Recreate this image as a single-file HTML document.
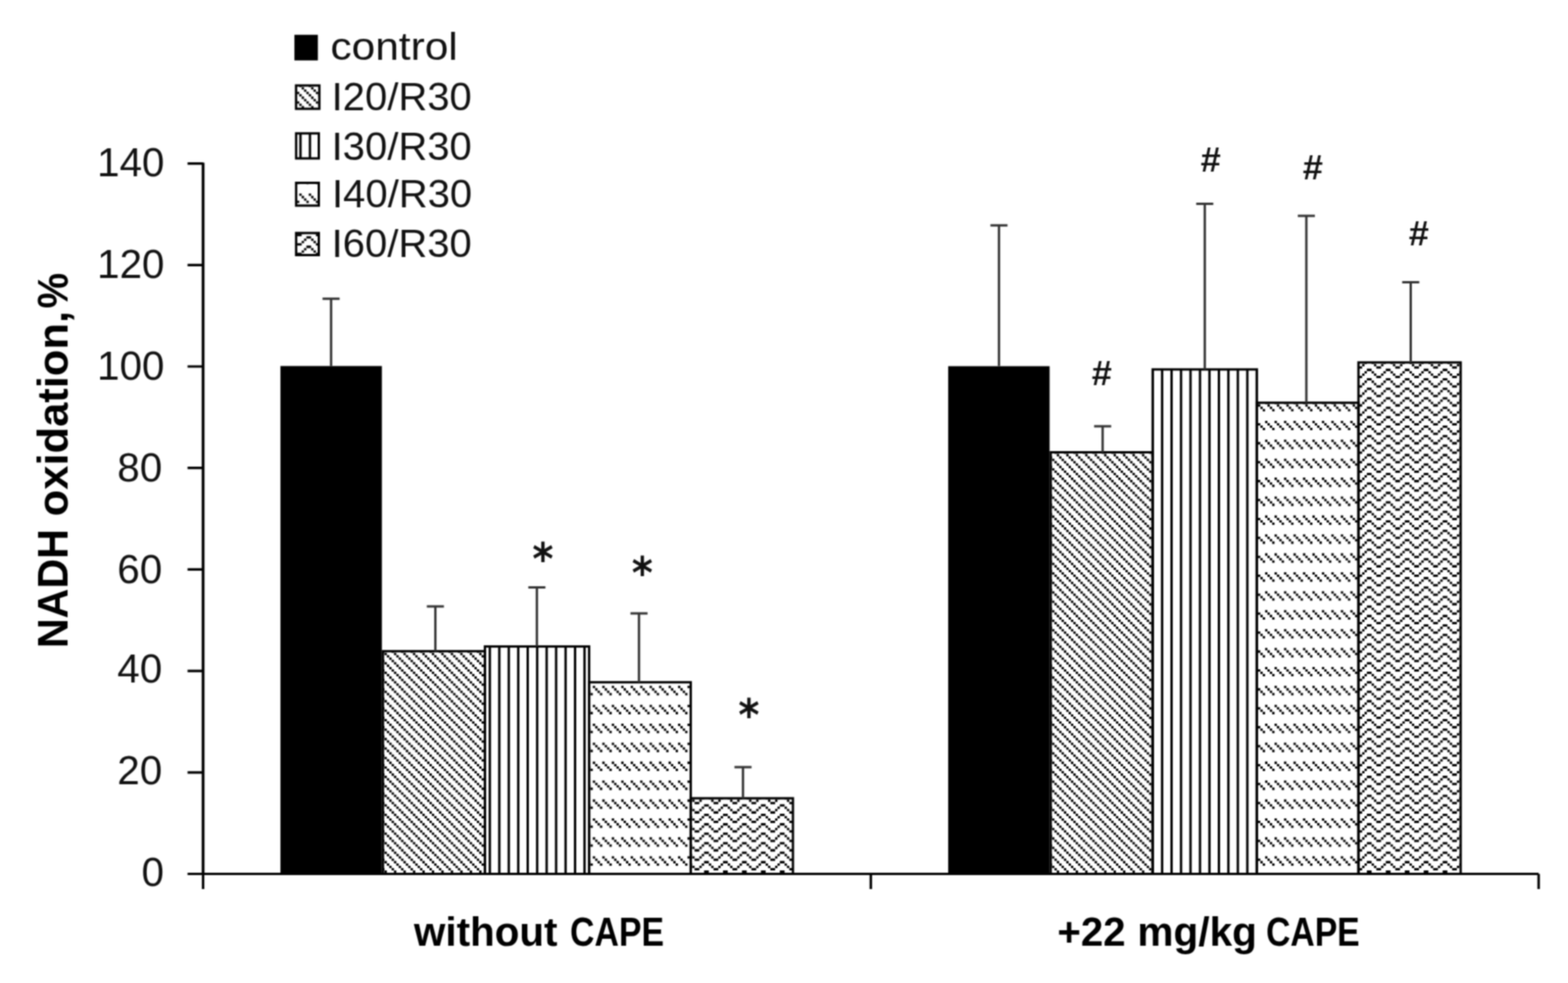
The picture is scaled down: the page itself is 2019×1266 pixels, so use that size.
<!DOCTYPE html>
<html><head><meta charset="utf-8"><title>NADH oxidation chart</title>
<style>html,body{margin:0;padding:0;background:#fff;overflow:hidden}svg{display:block}</style></head>
<body><svg width="2019" height="1266" viewBox="0 0 2019 1266">
<defs><filter id="soft" x="0" y="0" width="2019" height="1266" filterUnits="userSpaceOnUse" color-interpolation-filters="sRGB"><feConvolveMatrix order="5" kernelMatrix="0.00087 0.00695 0.01388 0.00695 0.00087 0.00695 0.05540 0.11068 0.05540 0.00695 0.01388 0.11068 0.22111 0.11068 0.01388 0.00695 0.05540 0.11068 0.05540 0.00695 0.00087 0.00695 0.01388 0.00695 0.00087" edgeMode="none"/></filter>
<clipPath id="c1"><rect x="493.1" y="838.7" width="131.3" height="286.8"/></clipPath>
<clipPath id="c2"><rect x="624.4" y="832.6" width="134.2" height="292.9"/></clipPath>
<clipPath id="c3"><rect x="758.6" y="878.7" width="130.8" height="246.8"/></clipPath>
<clipPath id="c4"><rect x="889.4" y="1028.1" width="131.6" height="97.4"/></clipPath>
<clipPath id="c5"><rect x="1352.9" y="582.5" width="131.3" height="543"/></clipPath>
<clipPath id="c6"><rect x="1484.2" y="475.8" width="134.2" height="649.7"/></clipPath>
<clipPath id="c7"><rect x="1618.4" y="518.7" width="130.8" height="606.8"/></clipPath>
<clipPath id="c8"><rect x="1749.2" y="466.8" width="131.6" height="658.7"/></clipPath>
<clipPath id="c9"><rect x="381.2" y="110.1" width="30" height="30"/></clipPath>
<clipPath id="c10"><rect x="381.3" y="171.8" width="29.2" height="32.2"/></clipPath>
<clipPath id="c11"><rect x="381.3" y="235.5" width="29.2" height="29.3"/></clipPath>
<clipPath id="c12"><rect x="381.3" y="300.1" width="29.2" height="28.4"/></clipPath></defs>
<rect width="2019" height="1266" fill="#fff"/>
<g filter="url(#soft)">
<rect x="361.1" y="471.4" width="130.6" height="654.1" fill="#000"/>
<g clip-path="url(#c1)"><path d="M485.96 836.05H627.45M485.96 848.24H627.45M485.96 860.44H627.45M485.96 872.63H627.45M485.96 884.82H627.45M485.96 897.01H627.45M485.96 909.2H627.45M485.96 921.4H627.45M485.96 933.59H627.45M485.96 945.78H627.45M485.96 957.97H627.45M485.96 970.16H627.45M485.96 982.36H627.45M485.96 994.55H627.45M485.96 1006.74H627.45M485.96 1018.93H627.45M485.96 1031.12H627.45M485.96 1043.32H627.45M485.96 1055.51H627.45M485.96 1067.7H627.45M485.96 1079.89H627.45M485.96 1092.08H627.45M485.96 1104.28H627.45M485.96 1116.47H627.45M485.96 1128.66H627.45" stroke="#000" stroke-width="3.05" stroke-dasharray="3.05 9.14" stroke-dashoffset="-3.05"/><path d="M485.96 839.1H627.45M485.96 851.29H627.45M485.96 863.48H627.45M485.96 875.68H627.45M485.96 887.87H627.45M485.96 900.06H627.45M485.96 912.25H627.45M485.96 924.44H627.45M485.96 936.64H627.45M485.96 948.83H627.45M485.96 961.02H627.45M485.96 973.21H627.45M485.96 985.4H627.45M485.96 997.6H627.45M485.96 1009.79H627.45M485.96 1021.98H627.45M485.96 1034.17H627.45M485.96 1046.36H627.45M485.96 1058.56H627.45M485.96 1070.75H627.45M485.96 1082.94H627.45M485.96 1095.13H627.45M485.96 1107.32H627.45M485.96 1119.52H627.45" stroke="#000" stroke-width="3.05" stroke-dasharray="3.05 9.14" stroke-dashoffset="-6.1"/><path d="M485.96 842.15H627.45M485.96 854.34H627.45M485.96 866.53H627.45M485.96 878.72H627.45M485.96 890.92H627.45M485.96 903.11H627.45M485.96 915.3H627.45M485.96 927.49H627.45M485.96 939.68H627.45M485.96 951.88H627.45M485.96 964.07H627.45M485.96 976.26H627.45M485.96 988.45H627.45M485.96 1000.64H627.45M485.96 1012.84H627.45M485.96 1025.03H627.45M485.96 1037.22H627.45M485.96 1049.41H627.45M485.96 1061.6H627.45M485.96 1073.8H627.45M485.96 1085.99H627.45M485.96 1098.18H627.45M485.96 1110.37H627.45M485.96 1122.56H627.45" stroke="#000" stroke-width="3.05" stroke-dasharray="3.05 9.14" stroke-dashoffset="-9.14"/><path d="M485.96 845.2H627.45M485.96 857.39H627.45M485.96 869.58H627.45M485.96 881.77H627.45M485.96 893.96H627.45M485.96 906.16H627.45M485.96 918.35H627.45M485.96 930.54H627.45M485.96 942.73H627.45M485.96 954.92H627.45M485.96 967.12H627.45M485.96 979.31H627.45M485.96 991.5H627.45M485.96 1003.69H627.45M485.96 1015.88H627.45M485.96 1028.08H627.45M485.96 1040.27H627.45M485.96 1052.46H627.45M485.96 1064.65H627.45M485.96 1076.84H627.45M485.96 1089.04H627.45M485.96 1101.23H627.45M485.96 1113.42H627.45M485.96 1125.61H627.45" stroke="#000" stroke-width="3.05" stroke-dasharray="3.05 9.14" stroke-dashoffset="0"/></g><rect x="493.1" y="838.7" width="131.3" height="286.8" fill="none" stroke="#000" stroke-width="3"/>
<g clip-path="url(#c2)"><path d="M618.54 832.6V1125.5M630.74 832.6V1125.5M642.93 832.6V1125.5M655.12 832.6V1125.5M667.31 832.6V1125.5M679.5 832.6V1125.5M691.7 832.6V1125.5M703.89 832.6V1125.5M716.08 832.6V1125.5M728.27 832.6V1125.5M740.46 832.6V1125.5M752.66 832.6V1125.5" stroke="#000" stroke-width="3.05"/></g><rect x="624.4" y="832.6" width="134.2" height="292.9" fill="none" stroke="#000" stroke-width="3"/>
<g clip-path="url(#c3)"><path d="M754.18 884.82H892.45M754.18 909.2H892.45M754.18 933.59H892.45M754.18 957.97H892.45M754.18 982.36H892.45M754.18 1006.74H892.45M754.18 1031.12H892.45M754.18 1055.51H892.45M754.18 1079.89H892.45M754.18 1104.28H892.45M754.18 1128.66H892.45" stroke="#000" stroke-width="3.05" stroke-dasharray="3.05 9.14" stroke-dashoffset="-9.14"/><path d="M754.18 887.87H892.45M754.18 912.25H892.45M754.18 936.64H892.45M754.18 961.02H892.45M754.18 985.4H892.45M754.18 1009.79H892.45M754.18 1034.17H892.45M754.18 1058.56H892.45M754.18 1082.94H892.45M754.18 1107.32H892.45" stroke="#000" stroke-width="3.05" stroke-dasharray="3.05 9.14" stroke-dashoffset="0"/><path d="M754.18 890.92H892.45M754.18 915.3H892.45M754.18 939.68H892.45M754.18 964.07H892.45M754.18 988.45H892.45M754.18 1012.84H892.45M754.18 1037.22H892.45M754.18 1061.6H892.45M754.18 1085.99H892.45M754.18 1110.37H892.45" stroke="#000" stroke-width="3.05" stroke-dasharray="3.05 9.14" stroke-dashoffset="-3.05"/><path d="M754.18 893.96H892.45M754.18 918.35H892.45M754.18 942.73H892.45M754.18 967.12H892.45M754.18 991.5H892.45M754.18 1015.88H892.45M754.18 1040.27H892.45M754.18 1064.65H892.45M754.18 1089.04H892.45M754.18 1113.42H892.45" stroke="#000" stroke-width="3.05" stroke-dasharray="3.05 9.14" stroke-dashoffset="-6.1"/></g><rect x="758.6" y="878.7" width="130.8" height="246.8" fill="none" stroke="#000" stroke-width="3"/>
<g clip-path="url(#c4)"><path d="M876.1 1025.03H1024.05M876.1 1037.22H1024.05M876.1 1049.41H1024.05M876.1 1061.6H1024.05M876.1 1073.8H1024.05M876.1 1085.99H1024.05M876.1 1098.18H1024.05M876.1 1110.37H1024.05M876.1 1122.56H1024.05" stroke="#000" stroke-width="3.05" stroke-dasharray="6.1 18.29" stroke-dashoffset="-6.1"/><path d="M876.1 1028.08H1024.05M876.1 1040.27H1024.05M876.1 1052.46H1024.05M876.1 1064.65H1024.05M876.1 1076.84H1024.05M876.1 1089.04H1024.05M876.1 1101.23H1024.05M876.1 1113.42H1024.05M876.1 1125.61H1024.05" stroke="#000" stroke-width="3.05" stroke-dasharray="3.05 6.1 3.05 12.19" stroke-dashoffset="-3.05"/><path d="M876.1 1031.12H1024.05M876.1 1043.32H1024.05M876.1 1055.51H1024.05M876.1 1067.7H1024.05M876.1 1079.89H1024.05M876.1 1092.08H1024.05M876.1 1104.28H1024.05M876.1 1116.47H1024.05M876.1 1128.66H1024.05" stroke="#000" stroke-width="3.05" stroke-dasharray="3.05 12.19 3.05 6.1" stroke-dashoffset="0"/><path d="M876.1 1034.17H1024.05M876.1 1046.36H1024.05M876.1 1058.56H1024.05M876.1 1070.75H1024.05M876.1 1082.94H1024.05M876.1 1095.13H1024.05M876.1 1107.32H1024.05M876.1 1119.52H1024.05" stroke="#000" stroke-width="3.05" stroke-dasharray="6.1 18.29" stroke-dashoffset="-18.29"/></g><rect x="889.4" y="1028.1" width="131.6" height="97.4" fill="none" stroke="#000" stroke-width="3"/>
<rect x="1220.9" y="471.6" width="130.6" height="653.9" fill="#000"/>
<g clip-path="url(#c5)"><path d="M1339.4 580.02H1487.25M1339.4 592.21H1487.25M1339.4 604.4H1487.25M1339.4 616.6H1487.25M1339.4 628.79H1487.25M1339.4 640.98H1487.25M1339.4 653.17H1487.25M1339.4 665.36H1487.25M1339.4 677.56H1487.25M1339.4 689.75H1487.25M1339.4 701.94H1487.25M1339.4 714.13H1487.25M1339.4 726.32H1487.25M1339.4 738.52H1487.25M1339.4 750.71H1487.25M1339.4 762.9H1487.25M1339.4 775.09H1487.25M1339.4 787.28H1487.25M1339.4 799.48H1487.25M1339.4 811.67H1487.25M1339.4 823.86H1487.25M1339.4 836.05H1487.25M1339.4 848.24H1487.25M1339.4 860.44H1487.25M1339.4 872.63H1487.25M1339.4 884.82H1487.25M1339.4 897.01H1487.25M1339.4 909.2H1487.25M1339.4 921.4H1487.25M1339.4 933.59H1487.25M1339.4 945.78H1487.25M1339.4 957.97H1487.25M1339.4 970.16H1487.25M1339.4 982.36H1487.25M1339.4 994.55H1487.25M1339.4 1006.74H1487.25M1339.4 1018.93H1487.25M1339.4 1031.12H1487.25M1339.4 1043.32H1487.25M1339.4 1055.51H1487.25M1339.4 1067.7H1487.25M1339.4 1079.89H1487.25M1339.4 1092.08H1487.25M1339.4 1104.28H1487.25M1339.4 1116.47H1487.25M1339.4 1128.66H1487.25" stroke="#000" stroke-width="3.05" stroke-dasharray="3.05 9.14" stroke-dashoffset="-3.05"/><path d="M1339.4 583.07H1487.25M1339.4 595.26H1487.25M1339.4 607.45H1487.25M1339.4 619.64H1487.25M1339.4 631.84H1487.25M1339.4 644.03H1487.25M1339.4 656.22H1487.25M1339.4 668.41H1487.25M1339.4 680.6H1487.25M1339.4 692.8H1487.25M1339.4 704.99H1487.25M1339.4 717.18H1487.25M1339.4 729.37H1487.25M1339.4 741.56H1487.25M1339.4 753.76H1487.25M1339.4 765.95H1487.25M1339.4 778.14H1487.25M1339.4 790.33H1487.25M1339.4 802.52H1487.25M1339.4 814.72H1487.25M1339.4 826.91H1487.25M1339.4 839.1H1487.25M1339.4 851.29H1487.25M1339.4 863.48H1487.25M1339.4 875.68H1487.25M1339.4 887.87H1487.25M1339.4 900.06H1487.25M1339.4 912.25H1487.25M1339.4 924.44H1487.25M1339.4 936.64H1487.25M1339.4 948.83H1487.25M1339.4 961.02H1487.25M1339.4 973.21H1487.25M1339.4 985.4H1487.25M1339.4 997.6H1487.25M1339.4 1009.79H1487.25M1339.4 1021.98H1487.25M1339.4 1034.17H1487.25M1339.4 1046.36H1487.25M1339.4 1058.56H1487.25M1339.4 1070.75H1487.25M1339.4 1082.94H1487.25M1339.4 1095.13H1487.25M1339.4 1107.32H1487.25M1339.4 1119.52H1487.25" stroke="#000" stroke-width="3.05" stroke-dasharray="3.05 9.14" stroke-dashoffset="-6.1"/><path d="M1339.4 586.12H1487.25M1339.4 598.31H1487.25M1339.4 610.5H1487.25M1339.4 622.69H1487.25M1339.4 634.88H1487.25M1339.4 647.08H1487.25M1339.4 659.27H1487.25M1339.4 671.46H1487.25M1339.4 683.65H1487.25M1339.4 695.84H1487.25M1339.4 708.04H1487.25M1339.4 720.23H1487.25M1339.4 732.42H1487.25M1339.4 744.61H1487.25M1339.4 756.8H1487.25M1339.4 769H1487.25M1339.4 781.19H1487.25M1339.4 793.38H1487.25M1339.4 805.57H1487.25M1339.4 817.76H1487.25M1339.4 829.96H1487.25M1339.4 842.15H1487.25M1339.4 854.34H1487.25M1339.4 866.53H1487.25M1339.4 878.72H1487.25M1339.4 890.92H1487.25M1339.4 903.11H1487.25M1339.4 915.3H1487.25M1339.4 927.49H1487.25M1339.4 939.68H1487.25M1339.4 951.88H1487.25M1339.4 964.07H1487.25M1339.4 976.26H1487.25M1339.4 988.45H1487.25M1339.4 1000.64H1487.25M1339.4 1012.84H1487.25M1339.4 1025.03H1487.25M1339.4 1037.22H1487.25M1339.4 1049.41H1487.25M1339.4 1061.6H1487.25M1339.4 1073.8H1487.25M1339.4 1085.99H1487.25M1339.4 1098.18H1487.25M1339.4 1110.37H1487.25M1339.4 1122.56H1487.25" stroke="#000" stroke-width="3.05" stroke-dasharray="3.05 9.14" stroke-dashoffset="-9.14"/><path d="M1339.4 589.16H1487.25M1339.4 601.36H1487.25M1339.4 613.55H1487.25M1339.4 625.74H1487.25M1339.4 637.93H1487.25M1339.4 650.12H1487.25M1339.4 662.32H1487.25M1339.4 674.51H1487.25M1339.4 686.7H1487.25M1339.4 698.89H1487.25M1339.4 711.08H1487.25M1339.4 723.28H1487.25M1339.4 735.47H1487.25M1339.4 747.66H1487.25M1339.4 759.85H1487.25M1339.4 772.04H1487.25M1339.4 784.24H1487.25M1339.4 796.43H1487.25M1339.4 808.62H1487.25M1339.4 820.81H1487.25M1339.4 833H1487.25M1339.4 845.2H1487.25M1339.4 857.39H1487.25M1339.4 869.58H1487.25M1339.4 881.77H1487.25M1339.4 893.96H1487.25M1339.4 906.16H1487.25M1339.4 918.35H1487.25M1339.4 930.54H1487.25M1339.4 942.73H1487.25M1339.4 954.92H1487.25M1339.4 967.12H1487.25M1339.4 979.31H1487.25M1339.4 991.5H1487.25M1339.4 1003.69H1487.25M1339.4 1015.88H1487.25M1339.4 1028.08H1487.25M1339.4 1040.27H1487.25M1339.4 1052.46H1487.25M1339.4 1064.65H1487.25M1339.4 1076.84H1487.25M1339.4 1089.04H1487.25M1339.4 1101.23H1487.25M1339.4 1113.42H1487.25M1339.4 1125.61H1487.25" stroke="#000" stroke-width="3.05" stroke-dasharray="3.05 9.14" stroke-dashoffset="0"/></g><rect x="1352.9" y="582.5" width="131.3" height="543" fill="none" stroke="#000" stroke-width="3"/>
<g clip-path="url(#c6)"><path d="M1484.18 475.8V1125.5M1496.37 475.8V1125.5M1508.56 475.8V1125.5M1520.75 475.8V1125.5M1532.94 475.8V1125.5M1545.14 475.8V1125.5M1557.33 475.8V1125.5M1569.52 475.8V1125.5M1581.71 475.8V1125.5M1593.9 475.8V1125.5M1606.1 475.8V1125.5M1618.29 475.8V1125.5" stroke="#000" stroke-width="3.05"/></g><rect x="1484.2" y="475.8" width="134.2" height="649.7" fill="none" stroke="#000" stroke-width="3"/>
<g clip-path="url(#c7)"><path d="M1607.62 519.06H1752.25M1607.62 543.44H1752.25M1607.62 567.83H1752.25M1607.62 592.21H1752.25M1607.62 616.6H1752.25M1607.62 640.98H1752.25M1607.62 665.36H1752.25M1607.62 689.75H1752.25M1607.62 714.13H1752.25M1607.62 738.52H1752.25M1607.62 762.9H1752.25M1607.62 787.28H1752.25M1607.62 811.67H1752.25M1607.62 836.05H1752.25M1607.62 860.44H1752.25M1607.62 884.82H1752.25M1607.62 909.2H1752.25M1607.62 933.59H1752.25M1607.62 957.97H1752.25M1607.62 982.36H1752.25M1607.62 1006.74H1752.25M1607.62 1031.12H1752.25M1607.62 1055.51H1752.25M1607.62 1079.89H1752.25M1607.62 1104.28H1752.25M1607.62 1128.66H1752.25" stroke="#000" stroke-width="3.05" stroke-dasharray="3.05 9.14" stroke-dashoffset="-9.14"/><path d="M1607.62 522.11H1752.25M1607.62 546.49H1752.25M1607.62 570.88H1752.25M1607.62 595.26H1752.25M1607.62 619.64H1752.25M1607.62 644.03H1752.25M1607.62 668.41H1752.25M1607.62 692.8H1752.25M1607.62 717.18H1752.25M1607.62 741.56H1752.25M1607.62 765.95H1752.25M1607.62 790.33H1752.25M1607.62 814.72H1752.25M1607.62 839.1H1752.25M1607.62 863.48H1752.25M1607.62 887.87H1752.25M1607.62 912.25H1752.25M1607.62 936.64H1752.25M1607.62 961.02H1752.25M1607.62 985.4H1752.25M1607.62 1009.79H1752.25M1607.62 1034.17H1752.25M1607.62 1058.56H1752.25M1607.62 1082.94H1752.25M1607.62 1107.32H1752.25" stroke="#000" stroke-width="3.05" stroke-dasharray="3.05 9.14" stroke-dashoffset="0"/><path d="M1607.62 525.16H1752.25M1607.62 549.54H1752.25M1607.62 573.92H1752.25M1607.62 598.31H1752.25M1607.62 622.69H1752.25M1607.62 647.08H1752.25M1607.62 671.46H1752.25M1607.62 695.84H1752.25M1607.62 720.23H1752.25M1607.62 744.61H1752.25M1607.62 769H1752.25M1607.62 793.38H1752.25M1607.62 817.76H1752.25M1607.62 842.15H1752.25M1607.62 866.53H1752.25M1607.62 890.92H1752.25M1607.62 915.3H1752.25M1607.62 939.68H1752.25M1607.62 964.07H1752.25M1607.62 988.45H1752.25M1607.62 1012.84H1752.25M1607.62 1037.22H1752.25M1607.62 1061.6H1752.25M1607.62 1085.99H1752.25M1607.62 1110.37H1752.25" stroke="#000" stroke-width="3.05" stroke-dasharray="3.05 9.14" stroke-dashoffset="-3.05"/><path d="M1607.62 528.2H1752.25M1607.62 552.59H1752.25M1607.62 576.97H1752.25M1607.62 601.36H1752.25M1607.62 625.74H1752.25M1607.62 650.12H1752.25M1607.62 674.51H1752.25M1607.62 698.89H1752.25M1607.62 723.28H1752.25M1607.62 747.66H1752.25M1607.62 772.04H1752.25M1607.62 796.43H1752.25M1607.62 820.81H1752.25M1607.62 845.2H1752.25M1607.62 869.58H1752.25M1607.62 893.96H1752.25M1607.62 918.35H1752.25M1607.62 942.73H1752.25M1607.62 967.12H1752.25M1607.62 991.5H1752.25M1607.62 1015.88H1752.25M1607.62 1040.27H1752.25M1607.62 1064.65H1752.25M1607.62 1089.04H1752.25M1607.62 1113.42H1752.25" stroke="#000" stroke-width="3.05" stroke-dasharray="3.05 9.14" stroke-dashoffset="-6.1"/></g><rect x="1618.4" y="518.7" width="130.8" height="606.8" fill="none" stroke="#000" stroke-width="3"/>
<g clip-path="url(#c8)"><path d="M1729.54 464.2H1883.85M1729.54 476.39H1883.85M1729.54 488.58H1883.85M1729.54 500.77H1883.85M1729.54 512.96H1883.85M1729.54 525.16H1883.85M1729.54 537.35H1883.85M1729.54 549.54H1883.85M1729.54 561.73H1883.85M1729.54 573.92H1883.85M1729.54 586.12H1883.85M1729.54 598.31H1883.85M1729.54 610.5H1883.85M1729.54 622.69H1883.85M1729.54 634.88H1883.85M1729.54 647.08H1883.85M1729.54 659.27H1883.85M1729.54 671.46H1883.85M1729.54 683.65H1883.85M1729.54 695.84H1883.85M1729.54 708.04H1883.85M1729.54 720.23H1883.85M1729.54 732.42H1883.85M1729.54 744.61H1883.85M1729.54 756.8H1883.85M1729.54 769H1883.85M1729.54 781.19H1883.85M1729.54 793.38H1883.85M1729.54 805.57H1883.85M1729.54 817.76H1883.85M1729.54 829.96H1883.85M1729.54 842.15H1883.85M1729.54 854.34H1883.85M1729.54 866.53H1883.85M1729.54 878.72H1883.85M1729.54 890.92H1883.85M1729.54 903.11H1883.85M1729.54 915.3H1883.85M1729.54 927.49H1883.85M1729.54 939.68H1883.85M1729.54 951.88H1883.85M1729.54 964.07H1883.85M1729.54 976.26H1883.85M1729.54 988.45H1883.85M1729.54 1000.64H1883.85M1729.54 1012.84H1883.85M1729.54 1025.03H1883.85M1729.54 1037.22H1883.85M1729.54 1049.41H1883.85M1729.54 1061.6H1883.85M1729.54 1073.8H1883.85M1729.54 1085.99H1883.85M1729.54 1098.18H1883.85M1729.54 1110.37H1883.85M1729.54 1122.56H1883.85" stroke="#000" stroke-width="3.05" stroke-dasharray="6.1 18.29" stroke-dashoffset="-6.1"/><path d="M1729.54 467.24H1883.85M1729.54 479.44H1883.85M1729.54 491.63H1883.85M1729.54 503.82H1883.85M1729.54 516.01H1883.85M1729.54 528.2H1883.85M1729.54 540.4H1883.85M1729.54 552.59H1883.85M1729.54 564.78H1883.85M1729.54 576.97H1883.85M1729.54 589.16H1883.85M1729.54 601.36H1883.85M1729.54 613.55H1883.85M1729.54 625.74H1883.85M1729.54 637.93H1883.85M1729.54 650.12H1883.85M1729.54 662.32H1883.85M1729.54 674.51H1883.85M1729.54 686.7H1883.85M1729.54 698.89H1883.85M1729.54 711.08H1883.85M1729.54 723.28H1883.85M1729.54 735.47H1883.85M1729.54 747.66H1883.85M1729.54 759.85H1883.85M1729.54 772.04H1883.85M1729.54 784.24H1883.85M1729.54 796.43H1883.85M1729.54 808.62H1883.85M1729.54 820.81H1883.85M1729.54 833H1883.85M1729.54 845.2H1883.85M1729.54 857.39H1883.85M1729.54 869.58H1883.85M1729.54 881.77H1883.85M1729.54 893.96H1883.85M1729.54 906.16H1883.85M1729.54 918.35H1883.85M1729.54 930.54H1883.85M1729.54 942.73H1883.85M1729.54 954.92H1883.85M1729.54 967.12H1883.85M1729.54 979.31H1883.85M1729.54 991.5H1883.85M1729.54 1003.69H1883.85M1729.54 1015.88H1883.85M1729.54 1028.08H1883.85M1729.54 1040.27H1883.85M1729.54 1052.46H1883.85M1729.54 1064.65H1883.85M1729.54 1076.84H1883.85M1729.54 1089.04H1883.85M1729.54 1101.23H1883.85M1729.54 1113.42H1883.85M1729.54 1125.61H1883.85" stroke="#000" stroke-width="3.05" stroke-dasharray="3.05 6.1 3.05 12.19" stroke-dashoffset="-3.05"/><path d="M1729.54 470.29H1883.85M1729.54 482.48H1883.85M1729.54 494.68H1883.85M1729.54 506.87H1883.85M1729.54 519.06H1883.85M1729.54 531.25H1883.85M1729.54 543.44H1883.85M1729.54 555.64H1883.85M1729.54 567.83H1883.85M1729.54 580.02H1883.85M1729.54 592.21H1883.85M1729.54 604.4H1883.85M1729.54 616.6H1883.85M1729.54 628.79H1883.85M1729.54 640.98H1883.85M1729.54 653.17H1883.85M1729.54 665.36H1883.85M1729.54 677.56H1883.85M1729.54 689.75H1883.85M1729.54 701.94H1883.85M1729.54 714.13H1883.85M1729.54 726.32H1883.85M1729.54 738.52H1883.85M1729.54 750.71H1883.85M1729.54 762.9H1883.85M1729.54 775.09H1883.85M1729.54 787.28H1883.85M1729.54 799.48H1883.85M1729.54 811.67H1883.85M1729.54 823.86H1883.85M1729.54 836.05H1883.85M1729.54 848.24H1883.85M1729.54 860.44H1883.85M1729.54 872.63H1883.85M1729.54 884.82H1883.85M1729.54 897.01H1883.85M1729.54 909.2H1883.85M1729.54 921.4H1883.85M1729.54 933.59H1883.85M1729.54 945.78H1883.85M1729.54 957.97H1883.85M1729.54 970.16H1883.85M1729.54 982.36H1883.85M1729.54 994.55H1883.85M1729.54 1006.74H1883.85M1729.54 1018.93H1883.85M1729.54 1031.12H1883.85M1729.54 1043.32H1883.85M1729.54 1055.51H1883.85M1729.54 1067.7H1883.85M1729.54 1079.89H1883.85M1729.54 1092.08H1883.85M1729.54 1104.28H1883.85M1729.54 1116.47H1883.85M1729.54 1128.66H1883.85" stroke="#000" stroke-width="3.05" stroke-dasharray="3.05 12.19 3.05 6.1" stroke-dashoffset="0"/><path d="M1729.54 473.34H1883.85M1729.54 485.53H1883.85M1729.54 497.72H1883.85M1729.54 509.92H1883.85M1729.54 522.11H1883.85M1729.54 534.3H1883.85M1729.54 546.49H1883.85M1729.54 558.68H1883.85M1729.54 570.88H1883.85M1729.54 583.07H1883.85M1729.54 595.26H1883.85M1729.54 607.45H1883.85M1729.54 619.64H1883.85M1729.54 631.84H1883.85M1729.54 644.03H1883.85M1729.54 656.22H1883.85M1729.54 668.41H1883.85M1729.54 680.6H1883.85M1729.54 692.8H1883.85M1729.54 704.99H1883.85M1729.54 717.18H1883.85M1729.54 729.37H1883.85M1729.54 741.56H1883.85M1729.54 753.76H1883.85M1729.54 765.95H1883.85M1729.54 778.14H1883.85M1729.54 790.33H1883.85M1729.54 802.52H1883.85M1729.54 814.72H1883.85M1729.54 826.91H1883.85M1729.54 839.1H1883.85M1729.54 851.29H1883.85M1729.54 863.48H1883.85M1729.54 875.68H1883.85M1729.54 887.87H1883.85M1729.54 900.06H1883.85M1729.54 912.25H1883.85M1729.54 924.44H1883.85M1729.54 936.64H1883.85M1729.54 948.83H1883.85M1729.54 961.02H1883.85M1729.54 973.21H1883.85M1729.54 985.4H1883.85M1729.54 997.6H1883.85M1729.54 1009.79H1883.85M1729.54 1021.98H1883.85M1729.54 1034.17H1883.85M1729.54 1046.36H1883.85M1729.54 1058.56H1883.85M1729.54 1070.75H1883.85M1729.54 1082.94H1883.85M1729.54 1095.13H1883.85M1729.54 1107.32H1883.85M1729.54 1119.52H1883.85" stroke="#000" stroke-width="3.05" stroke-dasharray="6.1 18.29" stroke-dashoffset="-18.29"/></g><rect x="1749.2" y="466.8" width="131.6" height="658.7" fill="none" stroke="#000" stroke-width="3"/>
<path d="M426.3 471.4V384.7M415.3 384.7H437.3M560.6 838.7V781M549.6 781H571.6M691.3 832.6V756.4M680.3 756.4H702.3M822.8 878.7V790M811.8 790H833.8M956.7 1028.1V988.1M945.7 988.1H967.7M1286.3 471.6V290.2M1275.3 290.2H1297.3M1419.8 582.5V548.9M1408.8 548.9H1430.8M1551.3 475.8V262.5M1540.3 262.5H1562.3M1682.1 518.7V278M1671.1 278H1693.1M1816.5 466.8V363.4M1805.5 363.4H1827.5" stroke="#333" stroke-width="3" fill="none"/>
<path d="M261.5 209.5V1127.1" stroke="#000" stroke-width="3.6" fill="none"/>
<path d="M261.5 1125.5H1981.2M241.5 1125.5H261.5M241.5 994.8H261.5M241.5 864.1H261.5M241.5 733.4H261.5M241.5 602.7H261.5M241.5 472H261.5M241.5 341.3H261.5M241.5 210.6H261.5M261.5 1125.5V1145M1121.3 1125.5V1145M1981.2 1125.5V1145" stroke="#000" stroke-width="3.2" fill="none"/>
<g font-family="Liberation Sans, sans-serif" font-size="52" fill="#111"><text x="211.1" y="1141.4" text-anchor="end">0</text><text x="208.9" y="1010.4" text-anchor="end">20</text><text x="208.9" y="879.2" text-anchor="end">40</text><text x="208.9" y="750.75" text-anchor="end">60</text><text x="208.9" y="619.9" text-anchor="end">80</text><text x="211.8" y="489" text-anchor="end">100</text><text x="211.8" y="357.8" text-anchor="end">120</text><text x="211.8" y="226.9" text-anchor="end">140</text></g>
<g font-family="Liberation Sans, sans-serif" font-size="50" fill="#111"><rect x="379.1" y="44.8" width="30.2" height="33" fill="#000"/><text x="425.5" y="77.3" textLength="164" lengthAdjust="spacingAndGlyphs">control</text><g clip-path="url(#c9)"><path d="M376.23 107.58H414.25M376.23 119.77H414.25M376.23 131.96H414.25M376.23 144.16H414.25" stroke="#000" stroke-width="3.05" stroke-dasharray="3.05 9.14" stroke-dashoffset="-6.1"/><path d="M376.23 110.63H414.25M376.23 122.82H414.25M376.23 135.01H414.25" stroke="#000" stroke-width="3.05" stroke-dasharray="3.05 9.14" stroke-dashoffset="-9.14"/><path d="M376.23 113.68H414.25M376.23 125.87H414.25M376.23 138.06H414.25" stroke="#000" stroke-width="3.05" stroke-dasharray="3.05 9.14" stroke-dashoffset="0"/><path d="M376.23 116.72H414.25M376.23 128.92H414.25M376.23 141.11H414.25" stroke="#000" stroke-width="3.05" stroke-dasharray="3.05 9.14" stroke-dashoffset="-3.05"/></g><rect x="381.2" y="110.1" width="30" height="30" fill="none" stroke="#000" stroke-width="3"/><text x="427" y="141.6" textLength="180.5" lengthAdjust="spacingAndGlyphs">I20/R30</text><g clip-path="url(#c10)"><path d="M386.9 171.8V204M399.09 171.8V204M411.28 171.8V204" stroke="#000" stroke-width="3.05"/></g><rect x="381.3" y="171.8" width="29.2" height="32.2" fill="none" stroke="#000" stroke-width="3"/><text x="427" y="205.8" textLength="180.5" lengthAdjust="spacingAndGlyphs">I30/R30</text><g clip-path="url(#c11)"><path d="M376.23 232.55H413.55M376.23 256.93H413.55" stroke="#000" stroke-width="3.05" stroke-dasharray="3.05 9.14" stroke-dashoffset="-3.05"/><path d="M376.23 235.6H413.55M376.23 259.98H413.55" stroke="#000" stroke-width="3.05" stroke-dasharray="3.05 9.14" stroke-dashoffset="-6.1"/><path d="M376.23 250.84H413.55" stroke="#000" stroke-width="3.05" stroke-dasharray="3.05 9.14" stroke-dashoffset="-9.14"/><path d="M376.23 253.88H413.55" stroke="#000" stroke-width="3.05" stroke-dasharray="3.05 9.14" stroke-dashoffset="0"/></g><rect x="381.3" y="235.5" width="29.2" height="29.3" fill="none" stroke="#000" stroke-width="3"/><text x="427.5" y="266.8" textLength="180.5" lengthAdjust="spacingAndGlyphs">I40/R30</text><g clip-path="url(#c12)"><path d="M364.04 296.56H413.55M364.04 308.75H413.55M364.04 320.94H413.55" stroke="#000" stroke-width="3.05" stroke-dasharray="3.05 6.1 3.05 12.19" stroke-dashoffset="-3.05"/><path d="M364.04 299.6H413.55M364.04 311.8H413.55M364.04 323.99H413.55" stroke="#000" stroke-width="3.05" stroke-dasharray="3.05 12.19 3.05 6.1" stroke-dashoffset="0"/><path d="M364.04 302.65H413.55M364.04 314.84H413.55M364.04 327.04H413.55" stroke="#000" stroke-width="3.05" stroke-dasharray="6.1 18.29" stroke-dashoffset="-18.29"/><path d="M364.04 305.7H413.55M364.04 317.89H413.55M364.04 330.08H413.55" stroke="#000" stroke-width="3.05" stroke-dasharray="6.1 18.29" stroke-dashoffset="-6.1"/></g><rect x="381.3" y="300.1" width="29.2" height="28.4" fill="none" stroke="#000" stroke-width="3"/><text x="427" y="330.7" textLength="180.5" lengthAdjust="spacingAndGlyphs">I60/R30</text></g>
<text transform="rotate(-90)" font-family="Liberation Sans, sans-serif" font-weight="bold" font-size="55" fill="#000"><tspan x="-834.87" y="86.5" textLength="153.64" lengthAdjust="spacingAndGlyphs">NADH</tspan> <tspan x="-664.94" y="86.5" textLength="264.51" lengthAdjust="spacingAndGlyphs">oxidation,</tspan> <tspan x="-397.34" y="86.5" textLength="45.82" lengthAdjust="spacingAndGlyphs">%</tspan></text>
<text y="1217.6" font-family="Liberation Sans, sans-serif" font-weight="bold" font-size="51" fill="#000"><tspan x="533" textLength="184.91" lengthAdjust="spacingAndGlyphs">without</tspan> <tspan x="734.09" textLength="120.96" lengthAdjust="spacingAndGlyphs">CAPE</tspan></text>
<text y="1218" font-family="Liberation Sans, sans-serif" font-weight="bold" font-size="51" fill="#000"><tspan x="1361.47" textLength="87.85" lengthAdjust="spacingAndGlyphs">+22</tspan> <tspan x="1464.42" textLength="154.06" lengthAdjust="spacingAndGlyphs">mg/kg</tspan> <tspan x="1630.2" textLength="120.65" lengthAdjust="spacingAndGlyphs">CAPE</tspan></text>
<g font-family="DejaVu Sans, sans-serif" font-weight="bold" font-size="57" fill="#111"><text transform="translate(699.1 739.9) scale(0.91 1)" text-anchor="middle">*</text><text transform="translate(827 758.4) scale(0.91 1)" text-anchor="middle">*</text><text transform="translate(964.3 941.1) scale(0.91 1)" text-anchor="middle">*</text></g>
<g font-family="Liberation Sans, sans-serif" font-weight="bold" font-size="44" fill="#111"><text transform="translate(1418.8 495.7) scale(1.06 1)" text-anchor="middle">#</text><text transform="translate(1558.9 221.4) scale(1.06 1)" text-anchor="middle">#</text><text transform="translate(1690.4 230.5) scale(1.06 1)" text-anchor="middle">#</text><text transform="translate(1827 315.9) scale(1.06 1)" text-anchor="middle">#</text></g>
</g>
</svg></body></html>
